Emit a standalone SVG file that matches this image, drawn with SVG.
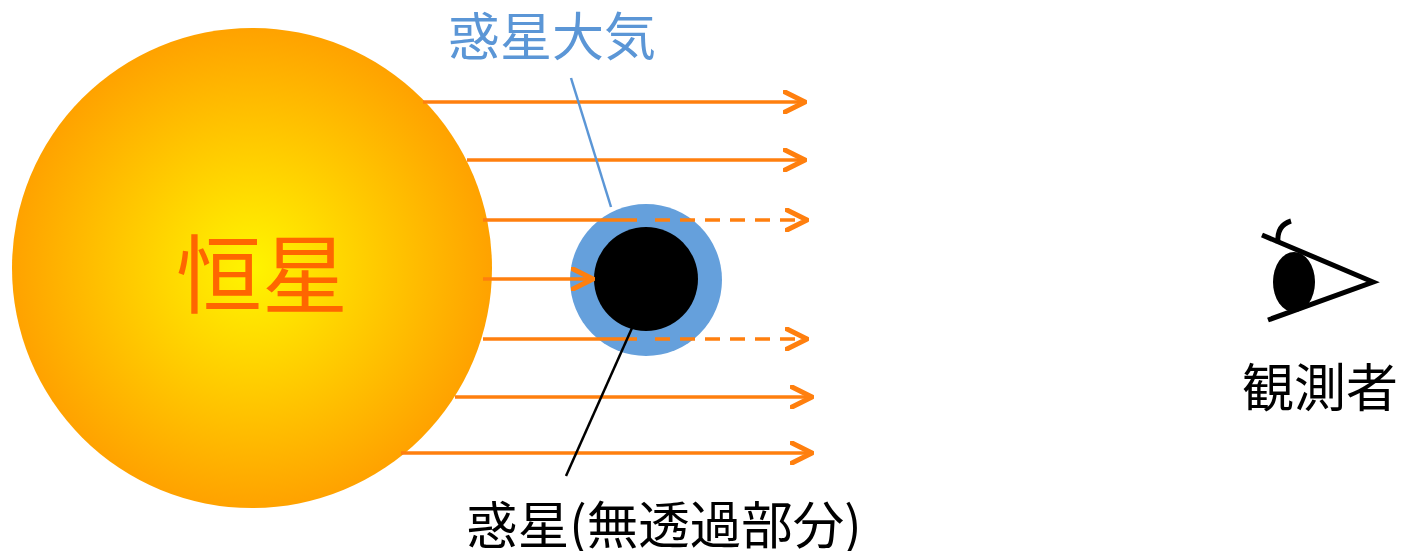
<svg xmlns="http://www.w3.org/2000/svg" width="1402" height="551" viewBox="0 0 1402 551">
  <style>
    .ray { stroke: #ff7f0e; stroke-width: 3.5; fill: none; }
    .dash { stroke-dasharray: 15 10; }
    .head { stroke: #ff7f0e; stroke-width: 5; fill: none; stroke-linecap: round; stroke-linejoin: round; }
    .jp { font-family: "Noto Sans CJK JP", "Noto Sans CJK SC", sans-serif; }
  </style>
  <defs>
    <radialGradient id="starGlow" cx="0.5" cy="0.5" r="0.5">
      <stop offset="0" stop-color="#fff500"/>
      <stop offset="1" stop-color="#ffa200"/>
    </radialGradient>
    <marker id="chevron" viewBox="-22 -12 24 24" markerWidth="24" markerHeight="24" refX="0" refY="0" markerUnits="userSpaceOnUse" orient="auto">
      <path d="M-20,-10 L0,0 L-20,10" class="head"/>
    </marker>
  </defs>

  <!-- host star -->
  <g id="star">
    <circle cx="252" cy="268" r="240" fill="url(#starGlow)"/>
    <text x="262" y="307" class="jp" font-size="86" fill="#ff6600" text-anchor="middle">恒星</text>
  </g>

  <!-- planet with its atmosphere -->
  <g id="planet">
    <circle cx="646" cy="280" r="76" fill="#65a0dc"/>
    <circle cx="646" cy="279" r="52" fill="#000000"/>
  </g>

  <!-- starlight rays -->
  <g id="connectors">
    <line class="ray" x1="423" y1="102" x2="805" y2="102" marker-end="url(#chevron)"/>
    <line class="ray" x1="467" y1="160" x2="805" y2="160" marker-end="url(#chevron)"/>
    <line class="ray" x1="483" y1="220" x2="637" y2="220"/>
    <line class="ray dash" x1="655" y1="220" x2="807" y2="220" marker-end="url(#chevron)"/>
    <line class="ray" x1="483" y1="279" x2="593" y2="279" marker-end="url(#chevron)"/>
    <line class="ray" x1="483" y1="339" x2="637" y2="339"/>
    <line class="ray dash" x1="655" y1="339" x2="807" y2="339" marker-end="url(#chevron)"/>
    <line class="ray" x1="455" y1="397" x2="812" y2="397" marker-end="url(#chevron)"/>
    <line class="ray" x1="401" y1="453" x2="812" y2="453" marker-end="url(#chevron)"/>
    <!-- leader lines -->
    <line x1="571" y1="78" x2="611" y2="207" stroke="#5b96d6" stroke-width="2.5"/>
    <line x1="632" y1="328" x2="566" y2="476" stroke="#000000" stroke-width="2.5"/>
  </g>

  <g id="atmosphere-label">
    <text x="552" y="56" class="jp" font-size="52" fill="#5b96d6" text-anchor="middle">惑星大気</text>
  </g>

  <g id="planet-label">
    <text x="664" y="544" class="jp" font-size="51.5" fill="#000000" text-anchor="middle">惑星(無透過部分)</text>
  </g>

  <!-- observer's eye -->
  <g id="observer">
    <ellipse cx="1294" cy="282" rx="21" ry="30" fill="#000000"/>
    <polyline points="1262,235 1373,282 1268,320" fill="none" stroke="#000000" stroke-width="5" stroke-linejoin="miter"/>
    <path d="M1278,243 C1277,232 1281,224 1291,221" fill="none" stroke="#000000" stroke-width="5"/>
    <text x="1320" y="407" class="jp" font-size="52" fill="#000000" text-anchor="middle">観測者</text>
  </g>
</svg>
